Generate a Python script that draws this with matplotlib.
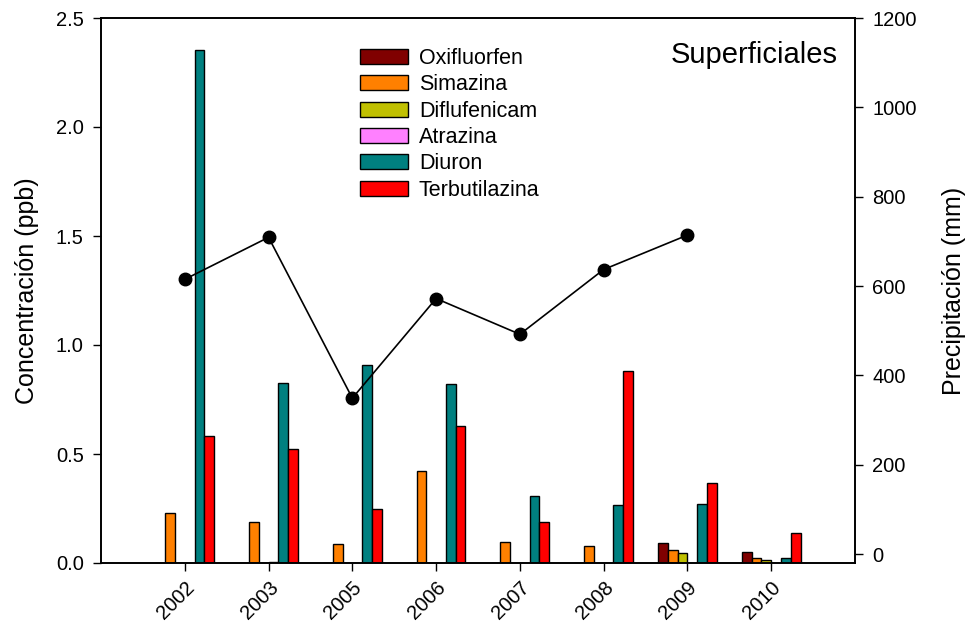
import numpy as np
import matplotlib
matplotlib.use("Agg")
import matplotlib.pyplot as plt

plt.rcParams['font.family'] = ['Liberation Sans', 'DejaVu Sans']

years = ['2002', '2003', '2005', '2006', '2007', '2008', '2009', '2010']
herbicides = ['Oxifluorfen', 'Simazina', 'Diflufenicam', 'Atrazina', 'Diuron', 'Terbutilazina']
colors = ['#800000', '#ff8000', '#c0c000', '#ff80ff', '#008080', '#ff0000']

oxifluorfen = [0, 0, 0, 0, 0, 0, 0.092, 0.050]
simazina = [0.23, 0.188, 0.086, 0.422, 0.095, 0.080, 0.060, 0.024]
diflufenicam = [0, 0, 0, 0, 0, 0, 0.047, 0.014]
atrazina = [0, 0.006, 0, 0, 0, 0, 0, 0]
diuron = [2.355, 0.825, 0.908, 0.820, 0.309, 0.265, 0.269, 0.023]
terbutilazina = [0.583, 0.524, 0.248, 0.630, 0.190, 0.880, 0.366, 0.138]

precip_years = ['2002', '2003', '2005', '2006', '2007', '2008', '2009']
precipitacion = [615, 709, 349, 572, 492, 637, 714]

series = [oxifluorfen, simazina, diflufenicam, atrazina, diuron, terbutilazina]

fig = plt.figure(figsize=(9.73, 6.23), dpi=100)
ax = fig.add_axes([101/973, 60/623, 754/973, 545/623])

x = np.arange(len(years))
w = 0.7 / 6
for i, (name, vals, c) in enumerate(zip(herbicides, series, colors)):
    ax.bar(x + (i - 2.5) * w, vals, width=w, color=c, edgecolor='black',
           linewidth=1.0, label=name, zorder=2)

ax.set_xlim(-1, 8)
ax.set_ylim(0, 2.5)
ax.set_yticks(np.arange(0, 2.51, 0.5))
ax.set_yticklabels([f'{v:.1f}' for v in np.arange(0, 2.51, 0.5)])
ax.set_xticks(x)
ax.set_xticklabels(years, rotation=45, ha='right', rotation_mode='anchor')
ax.tick_params(axis='both', labelsize=14.5, direction='out', length=5.5, width=1)
ax.tick_params(axis='y', pad=7)
ax.tick_params(axis='x', pad=5)
ax.set_ylabel('Concentración (ppb)', fontsize=18, labelpad=12)

ax.text(0.9775, 0.917, 'Superficiales', transform=ax.transAxes,
        ha='right', va='baseline', fontsize=21)

leg = ax.legend(loc='upper left', bbox_to_anchor=(0.343, 0.9453), frameon=False,
                fontsize=15.5, handlelength=2.25, handleheight=0.7,
                labelspacing=0.25, handletextpad=0.5, borderpad=0, borderaxespad=0)

ax2 = ax.twinx()
px = [years.index(y) for y in precip_years]
ax2.plot(px, precipitacion, color='black', linewidth=1.2, marker='o',
         markersize=9, zorder=3)
ax2.set_ylim(-20, 1200)
ax2.set_yticks(np.arange(0, 1201, 200))
ax2.tick_params(axis='y', labelsize=14.5, direction='out', length=5.5, width=1, pad=7)
ax2.set_ylabel('Precipitación (mm)', fontsize=18, labelpad=18)

for a in (ax, ax2):
    for s in a.spines.values():
        s.set_linewidth(1.2)

fig.savefig('out.png', dpi=100)
